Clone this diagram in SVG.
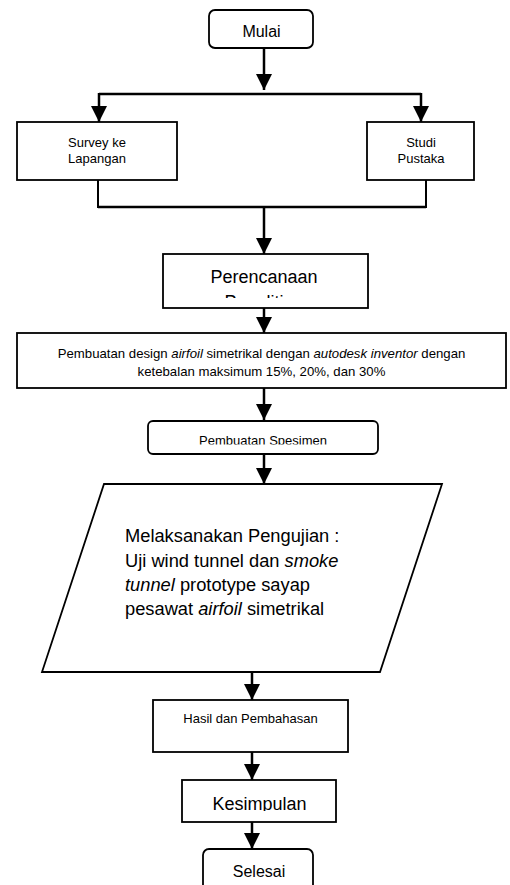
<svg xmlns="http://www.w3.org/2000/svg" width="510" height="885" viewBox="0 0 510 885">
<style>
.box{fill:#fff;stroke:#000;stroke-width:1.8}
.ln{fill:none;stroke:#000;stroke-width:2.5}
.thin{fill:none;stroke:#000;stroke-width:2}
text{font-family:"Liberation Sans",Arial,sans-serif;fill:#000}
.c{text-anchor:middle}
.i{font-style:italic}
</style>
<defs>
<marker id="ah" viewBox="0 0 16 16" markerWidth="16" markerHeight="16" refX="16" refY="8" orient="auto" markerUnits="userSpaceOnUse">
<path d="M0,0 L16,8 L0,16 z" fill="#000"/>
</marker>
<clipPath id="cpPer"><rect x="160" y="250" width="212" height="48"/></clipPath>
<clipPath id="cpSpe"><rect x="140" y="415" width="250" height="29.5"/></clipPath>
<clipPath id="cpKes"><rect x="180" y="775" width="160" height="36"/></clipPath>
</defs>

<g id="connectors">
<path class="ln" d="M264,48 V90" marker-end="url(#ah)"/>
<path class="ln" d="M99,94 H421"/>
<path class="ln" d="M99,93 V122" marker-end="url(#ah)"/>
<path class="ln" d="M421,93 V122" marker-end="url(#ah)"/>
<path class="thin" d="M98,180 V208"/>
<path class="thin" d="M426,180 V208"/>
<path class="ln" d="M98,207 H426"/>
<path class="ln" d="M264,207 V254" marker-end="url(#ah)"/>
<path class="ln" d="M264,308 V333" marker-end="url(#ah)"/>
<path class="ln" d="M264,388 V420" marker-end="url(#ah)"/>
<path class="ln" d="M264,454 V484" marker-end="url(#ah)"/>
<path class="ln" d="M252,672 V700" marker-end="url(#ah)"/>
<path class="ln" d="M252,752 V780" marker-end="url(#ah)"/>
<path class="ln" d="M252,822 V849" marker-end="url(#ah)"/>
</g>

<g id="mulai">
<rect class="box" x="209" y="10" width="104" height="38" rx="6"/>
<text class="c" x="261.5" y="37" font-size="16">Mulai</text>
</g>

<g id="survey">
<rect class="box" x="17" y="122" width="160" height="58"/>
<text class="c" x="97" y="147" font-size="13">Survey ke</text>
<text class="c" x="97" y="163" font-size="13">Lapangan</text>
</g>

<g id="studi">
<rect class="box" x="367" y="122" width="107" height="58"/>
<text class="c" x="421" y="147" font-size="13">Studi</text>
<text class="c" x="421" y="163" font-size="13">Pustaka</text>
</g>

<g id="perencanaan">
<rect class="box" x="163" y="254" width="205" height="54"/>
<g clip-path="url(#cpPer)">
<text class="c" x="264" y="283" font-size="18">Perencanaan</text>
<text class="c" x="264" y="308" font-size="18">Penelitian</text>
</g>
</g>

<g id="design">
<rect class="box" x="17" y="333" width="489" height="55"/>
<text class="c" x="261.5" y="358" font-size="13.2">Pembuatan design <tspan class="i">airfoil</tspan> simetrikal dengan <tspan class="i">autodesk inventor</tspan> dengan</text>
<text class="c" x="261.5" y="376" font-size="13.2">ketebalan maksimum 15%, 20%, dan 30%</text>
</g>

<g id="spesimen">
<rect class="box" x="148" y="421" width="230" height="33" rx="5"/>
<g clip-path="url(#cpSpe)">
<text class="c" x="263" y="445" font-size="13">Pembuatan Spesimen</text>
</g>
</g>

<g id="pengujian">
<polygon class="box" points="104,484 442,484 380,672 42,672"/>
<text x="125" y="542" font-size="18.3">Melaksanakan Pengujian :</text>
<text x="125" y="567" font-size="18.3">Uji wind tunnel dan <tspan class="i">smoke</tspan></text>
<text x="125" y="591" font-size="18.3"><tspan class="i">tunnel</tspan> prototype sayap</text>
<text x="125" y="615" font-size="18.3">pesawat <tspan class="i">airfoil</tspan> simetrikal</text>
</g>

<g id="hasil">
<rect class="box" x="153" y="700" width="195" height="52"/>
<text class="c" x="250.5" y="723" font-size="13">Hasil dan Pembahasan</text>
</g>

<g id="kesimpulan">
<rect class="box" x="182" y="780" width="154" height="42"/>
<g clip-path="url(#cpKes)">
<text class="c" x="259.5" y="810" font-size="18">Kesimpulan</text>
</g>
</g>

<g id="selesai">
<rect class="box" x="203" y="849" width="110" height="45" rx="6"/>
<text class="c" x="259" y="877" font-size="16">Selesai</text>
</g>
</svg>
